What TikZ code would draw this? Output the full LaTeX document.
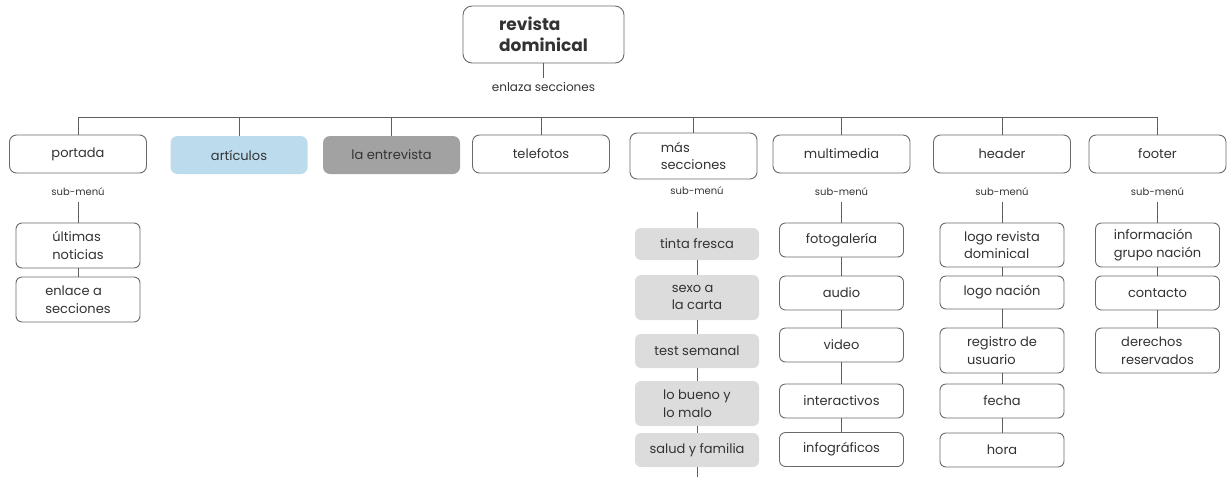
\documentclass[tikz,border=0pt]{standalone}
\usepackage{fontspec}
\setmainfont{Poppins}
\definecolor{ink}{HTML}{333333}
\definecolor{boxline}{HTML}{6A6A6A}
\definecolor{linkgray}{HTML}{5E5E5E}
\definecolor{softblue}{HTML}{BCDCEE}
\definecolor{midgray}{HTML}{A2A2A2}
\definecolor{softgray}{HTML}{DCDCDC}
\begin{document}
\begin{tikzpicture}[x=1pt,y=-1pt,
  mainbox/.style={draw=boxline, line width=0.9pt, rounded corners=7pt, fill=white,
    text=ink, font=\fontsize{13}{17.5}\selectfont, align=left, inner sep=0pt,
    minimum width=137pt, minimum height=38pt},
  subbox/.style={mainbox, rounded corners=6pt, minimum width=124pt, minimum height=34pt},
  tallbox/.style={subbox, minimum height=45pt},
  graybox/.style={subbox, draw=none, fill=softgray},
  note/.style={text=ink, inner sep=0pt, font=\fontsize{10}{12}\selectfont},
  link/.style={draw=linkgray, line width=0.9pt}]
\useasboundingbox (0,0) rectangle (1230,477);

% root
\node[mainbox, minimum width=161pt, minimum height=57pt, rounded corners=9pt,
  font=\fontsize{17}{21}\selectfont\bfseries] (root) at (543.5,34.5) {revista\\dominical};
\node[note, font=\fontsize{12}{14}\selectfont] (enlaza) at (543.5,87) {enlaza secciones};
\draw[link] (root.south) -- (root.south |- 0,78);

% first level
\node[mainbox] (portada) at (78,154) {portada};
\node[mainbox, draw=none, fill=softblue] (articulos) at (239,155) {artículos};
\node[mainbox, draw=none, fill=midgray] (entrevista) at (391.5,155) {la entrevista};
\node[mainbox] (telefotos) at (541,154) {telefotos};
\node[mainbox, minimum width=127pt, minimum height=46pt] (mas) at (693.5,156) {más\\secciones};
\node[mainbox] (multimedia) at (841.5,154) {multimedia};
\node[mainbox] (header) at (1002,154) {header};
\node[mainbox] (footer) at (1157.5,154) {footer};

% bus joining the sections
\coordinate (bus) at (0,117);
\draw[link] (portada.north) -- (portada.north |- bus) -- (footer.north |- bus) -- (footer.north);
\foreach \n in {articulos,entrevista,telefotos,mas,multimedia,header}
  \draw[link] (\n.north) -- (\n.north |- bus);

% sub-menu labels
\node[note] (subportada) at (78,192) {sub-menú};
\node[note] (submas) at (697,191) {sub-menú};
\node[note] (submulti) at (841.5,192) {sub-menú};
\node[note] (subheader) at (1002,192) {sub-menú};
\node[note] (subfooter) at (1157.5,192) {sub-menú};

% portada
\node[tallbox] (ultimas) at (78,245.5) {últimas\\noticias};
\node[tallbox] (enlace) at (78,299.5) {enlace a\\secciones};
\draw[link] (ultimas.north |- 0,202) -- (ultimas.north);
\draw[link] (ultimas) -- (enlace);

% más secciones
\node[graybox, minimum height=32pt] (tinta) at (697,244) {tinta fresca};
\node[graybox, minimum height=45pt] (sexo) at (697,297.5) {sexo a\\la carta};
\node[graybox] (test) at (697,351) {test semanal};
\node[graybox, minimum height=45pt] (bueno) at (697,403.5) {lo bueno y\\lo malo};
\node[graybox] (salud) at (697,450) {salud y familia};
\coordinate (masend) at (697,477);
\draw[link] (tinta.north |- 0,212) -- (tinta.north);
\draw[link] (tinta) -- (sexo);
\draw[link] (sexo) -- (test);
\draw[link] (test) -- (bueno);
\draw[link] (bueno) -- (salud);
\draw[link] (salud) -- (masend);

% multimedia
\node[subbox] (foto) at (841.5,240) {fotogalería};
\node[subbox] (audio) at (841.5,293) {audio};
\node[subbox] (video) at (841.5,345) {video};
\node[subbox] (interact) at (841.5,401) {interactivos};
\node[subbox] (infog) at (841.5,449.5) {infográficos};
\draw[link] (foto.north |- 0,202) -- (foto.north);
\draw[link] (foto) -- (audio);
\draw[link] (audio) -- (video);
\draw[link] (video) -- (interact);
\draw[link] (interact) -- (infog);

% header
\node[tallbox, minimum height=44pt] (logorev) at (1002,245) {logo revista\\dominical};
\node[subbox, minimum height=33pt] (logonac) at (1002,292.5) {logo nación};
\node[tallbox] (registro) at (1002,350.5) {registro de\\usuario};
\node[subbox] (fecha) at (1002,401) {fecha};
\node[subbox] (hora) at (1002,450) {hora};
\draw[link] (logorev.north |- 0,202) -- (logorev.north);
\draw[link] (logorev) -- (logonac);
\draw[link] (logonac) -- (registro);
\draw[link] (registro) -- (fecha);
\draw[link] (fecha) -- (hora);

% footer
\node[tallbox, minimum height=44pt] (info) at (1157.5,245) {información\\grupo nación};
\node[subbox] (contacto) at (1157.5,293) {contacto};
\node[tallbox] (derechos) at (1157.5,350.5) {derechos\\reservados};
\draw[link] (info.north |- 0,202) -- (info.north);
\draw[link] (info) -- (contacto);
\draw[link] (contacto) -- (derechos);
\end{tikzpicture}
\end{document}
